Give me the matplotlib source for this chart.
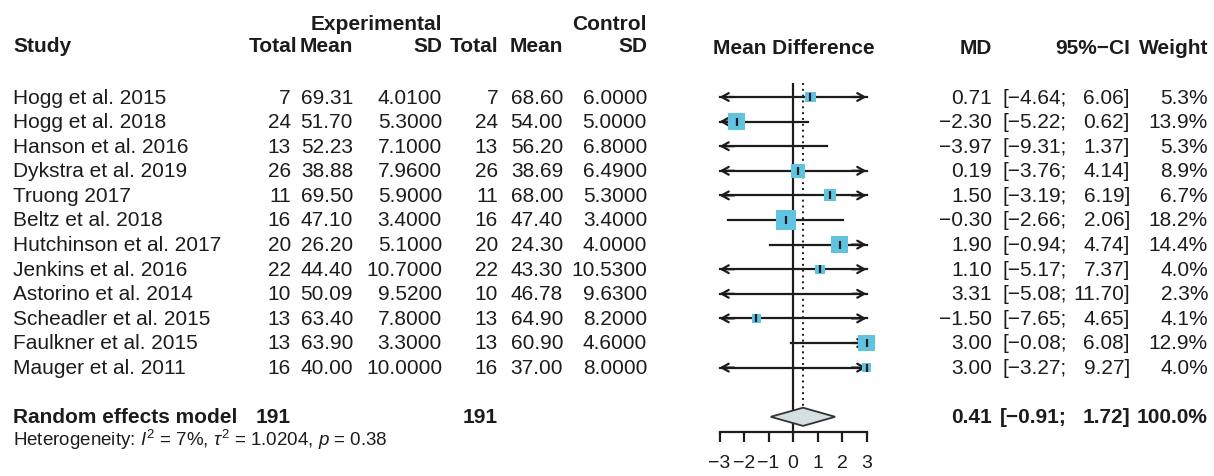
import matplotlib.pyplot as plt
import numpy as np

plt.rcParams['font.family'] = ['Liberation Sans', 'DejaVu Sans']
plt.rcParams['mathtext.fontset'] = 'custom'
plt.rcParams['mathtext.rm'] = 'Liberation Sans'
plt.rcParams['mathtext.it'] = 'Liberation Sans:italic'

# ---------------------------------------------------------------------------
# Data
# ---------------------------------------------------------------------------

studies = ['Hogg et al. 2015', 'Hogg et al. 2018', 'Hanson et al. 2016',
           'Dykstra et al. 2019', 'Truong 2017', 'Beltz et al. 2018',
           'Hutchinson et al. 2017', 'Jenkins et al. 2016',
           'Astorino et al. 2014', 'Scheadler et al. 2015',
           'Faulkner et al. 2015', 'Mauger et al. 2011']
exp_n    = [7, 24, 13, 26, 11, 16, 20, 22, 10, 13, 13, 16]
exp_mean = [69.31, 51.70, 52.23, 38.88, 69.50, 47.10, 26.20, 44.40, 50.09, 63.40, 63.90, 40.00]
exp_sd   = [4.01, 5.30, 7.10, 7.96, 5.90, 3.40, 5.10, 10.70, 9.52, 7.80, 3.30, 10.00]
ctl_n    = [7, 24, 13, 26, 11, 16, 20, 22, 10, 13, 13, 16]
ctl_mean = [68.60, 54.00, 56.20, 38.69, 68.00, 47.40, 24.30, 43.30, 46.78, 64.90, 60.90, 37.00]
ctl_sd   = [6.00, 5.00, 6.80, 6.49, 5.30, 3.40, 4.00, 10.53, 9.63, 8.20, 4.60, 8.00]
md       = [0.71, -2.30, -3.97, 0.19, 1.50, -0.30, 1.90, 1.10, 3.31, -1.50, 3.00, 3.00]
ci_lo    = [-4.64, -5.22, -9.31, -3.76, -3.19, -2.66, -0.94, -5.17, -5.08, -7.65, -0.08, -3.27]
ci_hi    = [6.06, 0.62, 1.37, 4.14, 6.19, 2.06, 4.74, 7.37, 11.70, 4.65, 6.08, 9.27]
weight   = [5.3, 13.9, 5.3, 8.9, 6.7, 18.2, 14.4, 4.0, 2.3, 4.1, 12.9, 4.0]

re_n_exp, re_n_ctl = 191, 191
re_md, re_lo, re_hi, re_w = 0.41, -0.91, 1.72, 100.0
het_text = r'Heterogeneity: $I^2$ = 7%, $\tau^2$ = 1.0204, $p$ = 0.38'
xticks = [-3, -2, -1, 0, 1, 2, 3]

# ---------------------------------------------------------------------------
# Layout (pixels)
# ---------------------------------------------------------------------------

W, H = 1214, 477
ROW0, ROW_STEP = 98, 24.6
RE_ROW = 13
ZERO_PX, UNIT_PX = 793, 24.5
AX_LEFT, AX_RIGHT = 695, 895
AX_TOP, AX_BOT = 84, 433
INK = '#1c1c1c'
SQ_COL = '#60c4e0'
FS = 15

COL = dict(study=13, e_n=291, e_mean=353, e_sd=442,
           c_n=498, c_mean=563, c_sd=647,
           md=992, ci_l=1067, ci_r=1130, w=1208)


def f(v, d):
    return f'{v:.{d}f}'.replace('-', '\u2212')


def row_px(i):
    return ROW0 + ROW_STEP * i


fig = plt.figure(figsize=(W / 100, H / 100), dpi=100)
bg = fig.add_axes([0, 0, 1, 1])
bg.set_xlim(0, W)
bg.set_ylim(H, 0)
bg.axis('off')


def txt(x, y, s, ha='right', bold=False, size=FS):
    bg.text(x, y, s, ha=ha, va='center', fontsize=size, color=INK,
            fontweight='bold' if bold else 'normal')


# headers
txt(COL['e_sd'], 25, 'Experimental', bold=True)
txt(COL['c_sd'], 25, 'Control', bold=True)
hy = 47
txt(COL['study'], hy, 'Study', ha='left', bold=True)
txt(COL['e_n'] + 6, hy, 'Total', bold=True)
txt(COL['e_mean'], hy, 'Mean', bold=True)
txt(COL['e_sd'], hy, 'SD', bold=True)
txt(COL['c_n'], hy, 'Total', bold=True)
txt(COL['c_mean'], hy, 'Mean', bold=True)
txt(COL['c_sd'], hy, 'SD', bold=True)
txt(794, hy + 2, 'Mean Difference', ha='center', bold=True)
txt(COL['md'], hy + 2, 'MD', bold=True)
txt(COL['ci_r'], hy + 2, '95%\u2212CI', bold=True)
txt(COL['w'], hy + 2, 'Weight', bold=True)

# study rows
for i, name in enumerate(studies):
    y = row_px(i)
    txt(COL['study'], y, name, ha='left')
    txt(COL['e_n'], y, str(exp_n[i]))
    txt(COL['e_mean'], y, f(exp_mean[i], 2))
    txt(COL['e_sd'], y, f(exp_sd[i], 4))
    txt(COL['c_n'], y, str(ctl_n[i]))
    txt(COL['c_mean'], y, f(ctl_mean[i], 2))
    txt(COL['c_sd'], y, f(ctl_sd[i], 4))
    txt(COL['md'], y, f(md[i], 2))
    txt(COL['ci_l'], y, f'[{f(ci_lo[i], 2)};')
    txt(COL['ci_r'], y, f'{f(ci_hi[i], 2)}]')
    txt(COL['w'], y, f'{weight[i]:.1f}%')

# pooled row
y = row_px(RE_ROW)
txt(COL['study'], y, 'Random effects model', ha='left', bold=True)
txt(COL['e_n'], y, str(re_n_exp), bold=True)
txt(COL['c_n'], y, str(re_n_ctl), bold=True)
txt(COL['md'], y, f(re_md, 2), bold=True)
txt(COL['ci_l'], y, f'[{f(re_lo, 2)};', bold=True)
txt(COL['ci_r'], y, f'{f(re_hi, 2)}]', bold=True)
txt(COL['w'], y, f'{re_w:.1f}%', bold=True)
txt(COL['study'], 440, het_text, ha='left', size=13.5)

# ---------------------------------------------------------------------------
# Forest panel
# ---------------------------------------------------------------------------

ax = fig.add_axes([AX_LEFT / W, (H - AX_BOT) / H,
                   (AX_RIGHT - AX_LEFT) / W, (AX_BOT - AX_TOP) / H])
ax.set_xlim((AX_LEFT - ZERO_PX) / UNIT_PX, (AX_RIGHT - ZERO_PX) / UNIT_PX)
ax.set_ylim((AX_BOT - ROW0) / ROW_STEP, (AX_TOP - ROW0) / ROW_STEP)
ax.patch.set_alpha(0)
xmin, xmax = xticks[0], xticks[-1]

ax.axvline(0, color=INK, lw=1.6, zorder=1)
ax.plot([re_md, re_md], [ax.get_ylim()[1], RE_ROW - 0.35], color=INK,
        lw=1.4, ls=(0, (1, 2)), zorder=1)

arrow = dict(arrowstyle='->,head_length=0.5,head_width=0.28', color=INK,
             lw=1.6, shrinkA=0, shrinkB=0)
for i in range(len(studies)):
    lo, hi = max(ci_lo[i], xmin), min(ci_hi[i], xmax)
    ax.plot([lo, hi], [i, i], color=INK, lw=1.6, zorder=2)
    if ci_lo[i] < xmin:
        ax.annotate('', xy=(xmin, i), xytext=(xmin + 0.6, i), arrowprops=arrow)
    if ci_hi[i] > xmax:
        ax.annotate('', xy=(xmax, i), xytext=(xmax - 0.6, i), arrowprops=arrow)
    if xmin <= md[i] <= xmax:
        ax.scatter(md[i], i, marker='s', s=11.4 * weight[i], color=SQ_COL,
                   edgecolors='none', zorder=3)
        ax.plot(md[i], i, marker='|', ms=6, mew=1.6, color=INK, zorder=4)

ax.fill([re_lo, re_md, re_hi, re_md], [RE_ROW, RE_ROW - 0.37, RE_ROW, RE_ROW + 0.37],
        facecolor='#d5e0e4', edgecolor='#333333', lw=1.3, zorder=3)

for s in ['top', 'left', 'right']:
    ax.spines[s].set_visible(False)
ax.spines['bottom'].set_bounds(xmin, xmax)
ax.spines['bottom'].set_linewidth(1.6)
ax.spines['bottom'].set_color(INK)
ax.set_yticks([])
ax.set_xticks(xticks)
ax.tick_params(axis='x', length=7.5, width=1.6, color=INK, labelsize=14,
               labelcolor=INK, pad=8)

fig.savefig('out.png', dpi=100)
